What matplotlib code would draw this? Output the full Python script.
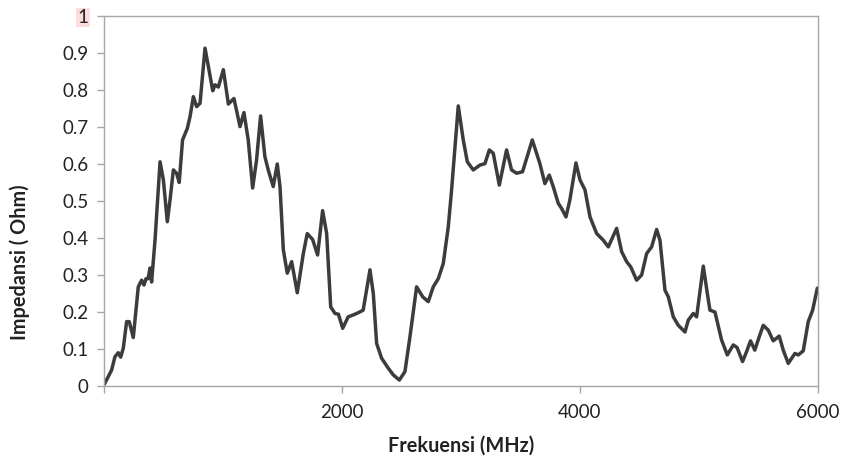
import matplotlib
matplotlib.use("Agg")
import matplotlib.pyplot as plt

# Frequency (MHz) and impedance (Ohm)
freq_mhz = [0, 64, 92, 120, 140, 162, 190, 212, 246, 288, 316, 336, 353, 370, 387, 400,
            429, 471, 499, 532, 555, 583, 610, 632, 660, 700, 723, 751, 778, 807, 849,
            877, 914, 933, 961, 1003, 1045, 1092, 1143, 1176, 1212, 1249, 1282, 1316,
            1352, 1380, 1422, 1456, 1479, 1507, 1540, 1577, 1624, 1675, 1708, 1753,
            1795, 1837, 1871, 1905, 1941, 1970, 2006, 2052, 2094, 2136, 2178, 2235,
            2263, 2291, 2333, 2389, 2431, 2482, 2529, 2571, 2627, 2678, 2725, 2767,
            2809, 2851, 2893, 2921, 2977, 3019, 3053, 3103, 3159, 3201, 3238, 3271,
            3322, 3383, 3425, 3467, 3517, 3565, 3599, 3635, 3663, 3705, 3742, 3775,
            3817, 3845, 3882, 3915, 3966, 4000, 4042, 4084, 4140, 4196, 4238, 4308,
            4350, 4392, 4426, 4476, 4518, 4560, 4602, 4644, 4672, 4714, 4742, 4784,
            4826, 4882, 4910, 4952, 4980, 5036, 5070, 5092, 5134, 5190, 5238, 5288,
            5320, 5366, 5400, 5433, 5469, 5506, 5540, 5582, 5624, 5674, 5708, 5750,
            5806, 5834, 5876, 5918, 5955, 5994, 6000]
impedance = [0.003, 0.043, 0.079, 0.090, 0.078, 0.102, 0.174, 0.174, 0.131, 0.268, 0.286,
             0.273, 0.290, 0.290, 0.319, 0.281, 0.395, 0.606, 0.557, 0.444, 0.503, 0.584,
             0.575, 0.550, 0.665, 0.696, 0.728, 0.782, 0.755, 0.764, 0.913, 0.863, 0.798,
             0.814, 0.808, 0.855, 0.762, 0.777, 0.701, 0.739, 0.665, 0.535, 0.611, 0.730,
             0.620, 0.584, 0.539, 0.600, 0.539, 0.368, 0.305, 0.336, 0.252, 0.358, 0.412,
             0.396, 0.354, 0.474, 0.412, 0.214, 0.196, 0.194, 0.156, 0.187, 0.192, 0.198,
             0.205, 0.314, 0.250, 0.115, 0.075, 0.048, 0.030, 0.016, 0.039, 0.133, 0.268,
             0.241, 0.228, 0.268, 0.290, 0.331, 0.430, 0.530, 0.757, 0.665, 0.606, 0.584,
             0.597, 0.601, 0.638, 0.629, 0.543, 0.638, 0.584, 0.575, 0.579, 0.629, 0.665,
             0.629, 0.601, 0.547, 0.570, 0.539, 0.494, 0.480, 0.457, 0.503, 0.603, 0.557,
             0.530, 0.457, 0.412, 0.394, 0.376, 0.426, 0.363, 0.336, 0.322, 0.286, 0.300,
             0.358, 0.376, 0.423, 0.394, 0.259, 0.241, 0.187, 0.164, 0.146, 0.178, 0.196,
             0.187, 0.324, 0.250, 0.205, 0.200, 0.124, 0.084, 0.111, 0.104, 0.066, 0.093,
             0.122, 0.097, 0.133, 0.164, 0.151, 0.122, 0.135, 0.097, 0.061, 0.088, 0.084,
             0.095, 0.174, 0.205, 0.264, 0.265]

x_ticks = [0, 2000, 4000, 6000]
x_tick_labels = ["", "2000", "4000", "6000"]
y_ticks = [0, 0.1, 0.2, 0.3, 0.4, 0.5, 0.6, 0.7, 0.8, 0.9, 1]
y_tick_labels = ["0", "0.1", "0.2", "0.3", "0.4", "0.5", "0.6", "0.7", "0.8", "0.9", "1"]

plt.rcParams['font.family'] = ['Lato', 'DejaVu Sans']

fig = plt.figure(figsize=(8.43, 4.62), dpi=100)
ax = fig.add_axes([104 / 843, 1 - 386 / 462, 714 / 843, 370 / 462])

ax.plot(freq_mhz, impedance, color="#3c3c3c", linewidth=2.5,
        solid_joinstyle="round", solid_capstyle="round")

ax.set_xlim(0, 6000)
ax.set_ylim(0, 1)
ax.set_xticks(x_ticks)
ax.set_xticklabels(x_tick_labels)
ax.set_yticks(y_ticks)
ax.set_yticklabels(y_tick_labels)

for sp in ax.spines.values():
    sp.set_color("#a6a6a6")
    sp.set_linewidth(1.0)

ax.tick_params(axis="both", colors="#a6a6a6", length=5, width=1, direction="out",
               labelcolor="#222222", labelsize=13.5)
ax.tick_params(axis="x", pad=8)
ax.tick_params(axis="y", pad=6)

# the "1" label is highlighted in the reference
ax.get_yticklabels()[-1].set_bbox(dict(facecolor="#fcdcdc", edgecolor="none", pad=1))

ax.set_xlabel("Frekuensi (MHz)", fontsize=14.3, fontweight="bold", color="#222222")
ax.set_ylabel("Impedansi ( Ohm)", fontsize=14.3, fontweight="bold", color="#222222")
ax.xaxis.set_label_coords(0.5, -0.135)
ax.yaxis.set_label_coords(-0.103, 0.335)

fig.savefig("out.png", dpi=100)
